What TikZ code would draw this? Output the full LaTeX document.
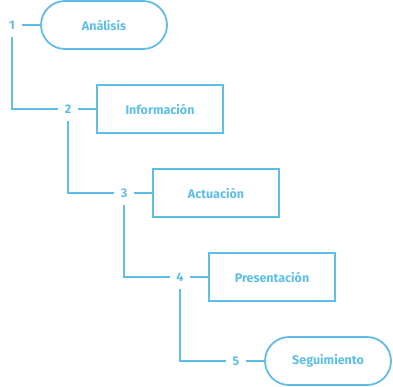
\documentclass[tikz,border=0pt]{standalone}
\usepackage{fontspec}
\setsansfont{Fira Sans}
\usetikzlibrary{positioning}

\definecolor{stepblue}{RGB}{94,190,230}

\begin{document}
\begin{tikzpicture}
    [
        x=1pt, y=1pt,
        on grid,
        node distance=84pt and 56pt,
        font=\sffamily\bfseries\fontsize{12.5}{15}\selectfont,
        text=stepblue,
        num/.style={minimum width=20pt, minimum height=24pt, inner sep=0pt},
        block/.style={draw=stepblue, line width=1.8pt, rectangle, minimum width=126pt, minimum height=48pt},
        pill/.style={block, rounded corners=24pt},
        link/.style={draw=stepblue, line width=1.8pt}
    ]
        \useasboundingbox (0,0) rectangle (393,-386);
        % --- numbers ---
        \node [num] at (12,-25) (n1) {1};
        \node [num, below right=of n1] (n2) {2};
        \node [num, below right=of n2] (n3) {3};
        \node [num, below right=of n3] (n4) {4};
        \node [num, below right=of n4] (n5) {5};
        % --- steps ---
        \node [pill, right=92pt of n1] (analisis) {Análisis};
        \node [block, right=92pt of n2] (informacion) {Información};
        \node [block, right=92pt of n3] (actuacion) {Actuación};
        \node [block, right=92pt of n4] (presentacion) {Presentación};
        \node [pill, right=92pt of n5] (seguimiento) {Seguimiento};
        % --- links ---
        \draw [link] (n1.east) -- (analisis.west);
        \draw [link] (n2.east) -- (informacion.west);
        \draw [link] (n3.east) -- (actuacion.west);
        \draw [link] (n4.east) -- (presentacion.west);
        \draw [link] (n5.east) -- (seguimiento.west);
        \draw [link] (n1.south) |- (n2.west);
        \draw [link] (n2.south) |- (n3.west);
        \draw [link] (n3.south) |- (n4.west);
        \draw [link] (n4.south) |- (n5.west);
\end{tikzpicture}
\end{document}
